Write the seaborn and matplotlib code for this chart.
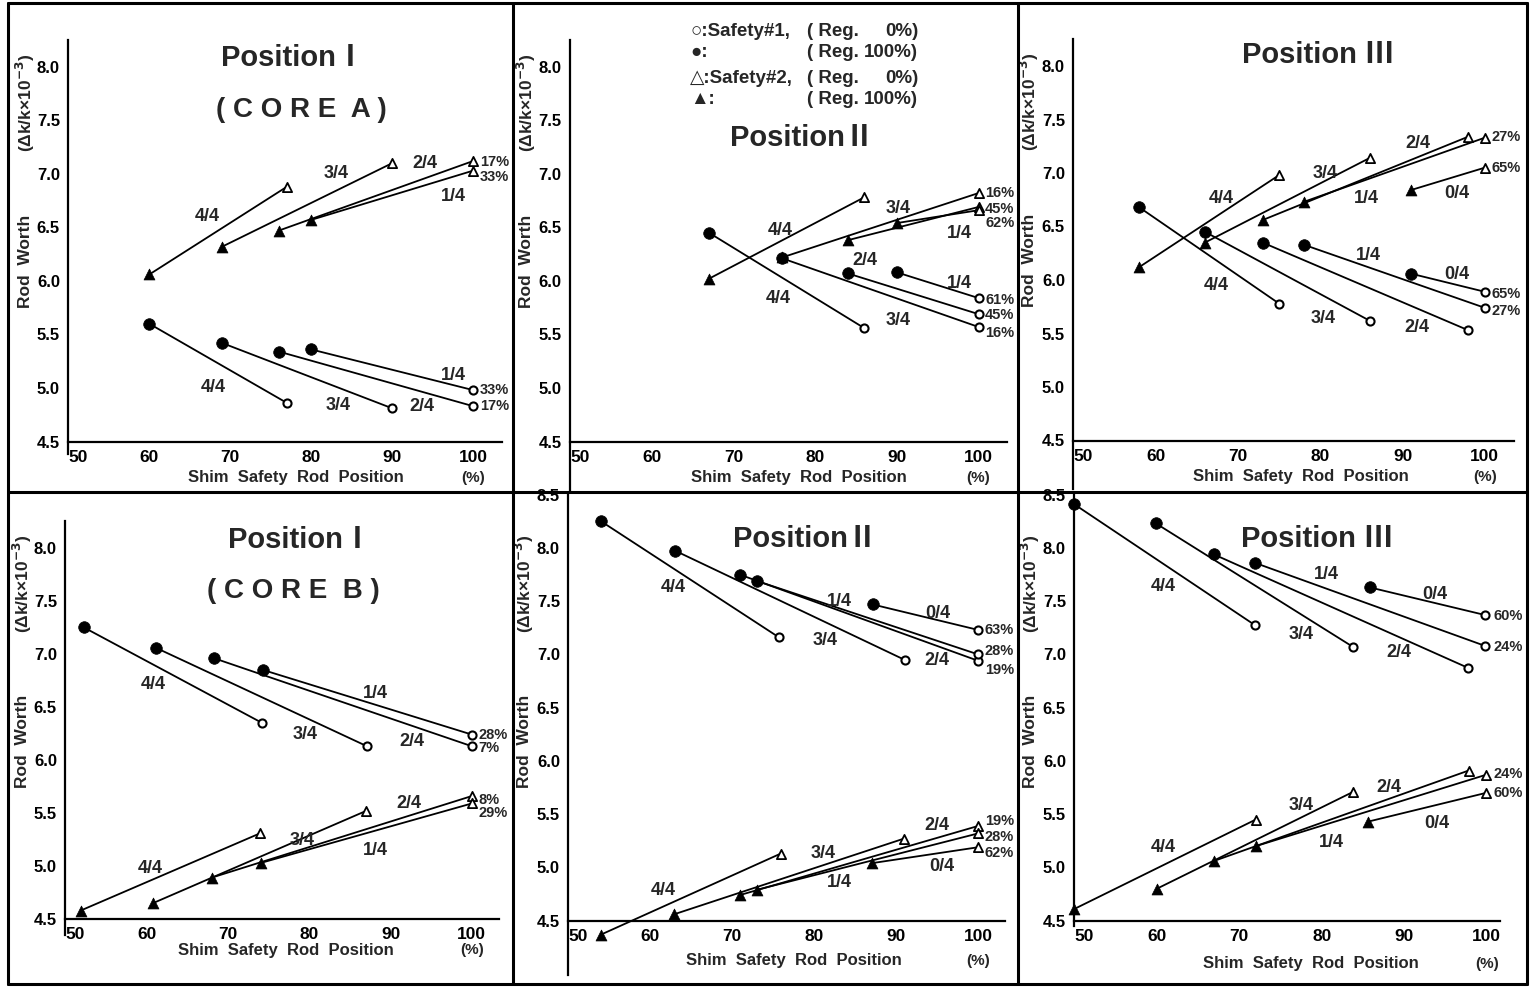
import matplotlib
matplotlib.use("Agg")
import matplotlib.pyplot as plt
import matplotlib.transforms as mtransforms
from matplotlib.lines import Line2D
from matplotlib import font_manager
import numpy as np
import pandas as pd
import seaborn as sns

# Each segment: (x_start, y_start, x_end, y_end)
# start = Reg. 100% (filled marker), end = Reg. 0% (open marker)
P1_CIRCLE = [(60, 5.60, 77, 4.86), (69, 5.42, 90, 4.81), (76, 5.34, 100, 4.83), (80, 5.36, 100, 4.98)]
P1_TRIANGLE = [(60, 6.06, 77, 6.88), (69, 6.32, 90, 7.10), (76, 6.47, 100, 7.12), (80, 6.57, 100, 7.03)]
P2_CIRCLE = [(67, 6.45, 86, 5.56), (76, 6.21, 100, 5.57), (84, 6.07, 100, 5.69), (90, 6.08, 100, 5.84)]
P2_TRIANGLE = [(67, 6.02, 86, 6.78), (76, 6.22, 100, 6.82), (84, 6.38, 100, 6.69), (90, 6.54, 100, 6.66)]
P3_CIRCLE = [(58, 6.68, 75, 5.78), (66, 6.45, 86, 5.62), (73, 6.35, 98, 5.53), (78, 6.33, 100, 5.74),
             (91, 6.06, 100, 5.89)]
P3_TRIANGLE = [(58, 6.12, 75, 6.98), (66, 6.35, 86, 7.14), (73, 6.56, 98, 7.34), (78, 6.73, 100, 7.33),
               (91, 6.84, 100, 7.05)]
P4_CIRCLE = [(52.3, 7.25, 74.2, 6.35), (61.1, 7.06, 87.1, 6.13), (68.3, 6.96, 100, 6.13), (74.3, 6.85, 100, 6.24)]
P4_TRIANGLE = [(51.9, 4.58, 74.0, 5.31), (60.8, 4.65, 87.0, 5.52), (68.0, 4.89, 100, 5.66), (74.1, 5.03, 100, 5.59)]
P5_CIRCLE = [(54, 8.25, 75.7, 7.16), (63, 7.975, 91, 6.95), (70.9, 7.75, 100, 6.94), (73, 7.69, 100, 7.00),
             (87.1, 7.47, 100, 7.23)]
P5_TRIANGLE = [(54, 4.37, 75.9, 5.13), (62.9, 4.56, 90.9, 5.27), (70.9, 4.74, 100, 5.39), (73, 4.79, 100, 5.32),
               (87, 5.04, 100, 5.19)]
P6_CIRCLE = [(50, 8.41, 71.9, 7.275), (59.9, 8.23, 83.8, 7.07), (66.9, 7.94, 97.7, 6.875), (71.9, 7.86, 99.8, 7.08),
             (85.8, 7.63, 99.8, 7.37)]
P6_TRIANGLE = [(50, 4.61, 72.0, 5.45), (60, 4.80, 83.8, 5.71), (66.9, 5.06, 97.8, 5.91), (72, 5.20, 99.9, 5.87),
               (85.6, 5.43, 99.9, 5.70)]

# rod pattern labels (text, x, y)
P1_LABELS = [("4/4", 67.1, 6.60), ("3/4", 83.1, 7.00), ("2/4", 94.0, 7.10), ("1/4", 97.5, 6.79),
             ("4/4", 67.9, 5.00), ("3/4", 83.3, 4.84), ("2/4", 93.6, 4.83), ("1/4", 97.5, 5.12)]
P2_LABELS = [("4/4", 75.7, 6.47), ("3/4", 90.2, 6.68), ("1/4", 97.6, 6.44), ("2/4", 86.1, 6.19),
             ("1/4", 97.6, 5.98), ("4/4", 75.5, 5.84), ("3/4", 90.2, 5.63)]
P3_LABELS = [("4/4", 68.0, 6.76), ("3/4", 80.6, 7.00), ("2/4", 91.9, 7.28), ("1/4", 85.6, 6.76), ("0/4", 96.6, 6.81),
             ("4/4", 67.4, 5.95), ("3/4", 80.4, 5.64), ("2/4", 91.7, 5.56), ("1/4", 85.8, 6.23), ("0/4", 96.6, 6.05)]
P4_LABELS = [("4/4", 60.8, 6.71), ("3/4", 79.5, 6.24), ("2/4", 92.6, 6.17), ("1/4", 88.1, 6.63),
             ("4/4", 60.4, 4.98), ("3/4", 79.1, 5.24), ("2/4", 92.2, 5.59), ("1/4", 88.1, 5.15)]
P5_LABELS = [("4/4", 62.8, 7.63), ("3/4", 81.3, 7.13), ("2/4", 94.9, 6.94), ("1/4", 83.1, 7.50), ("0/4", 95.1, 7.38),
             ("4/4", 61.6, 4.78), ("3/4", 81.1, 5.13), ("2/4", 94.9, 5.39), ("1/4", 83.1, 4.86), ("0/4", 95.5, 5.01)]
P6_LABELS = [("4/4", 60.8, 7.64), ("3/4", 77.5, 7.19), ("2/4", 89.3, 7.02), ("1/4", 80.6, 7.75), ("0/4", 93.7, 7.56),
             ("4/4", 60.8, 5.19), ("3/4", 77.5, 5.58), ("2/4", 88.1, 5.75), ("1/4", 81.2, 5.23), ("0/4", 93.9, 5.41)]

# percentage tags at the right-hand ends (text, y)
P1_PCT = [("17%", 7.11), ("33%", 6.97), ("33%", 4.98), ("17%", 4.83)]
P2_PCT = [("16%", 6.82), ("45%", 6.67), ("62%", 6.54), ("61%", 5.82), ("45%", 5.68), ("16%", 5.51)]
P3_PCT = [("27%", 7.34), ("65%", 7.05), ("65%", 5.87), ("27%", 5.71)]
P4_PCT = [("28%", 6.24), ("7%", 6.11), ("8%", 5.62), ("29%", 5.50)]
P5_PCT = [("63%", 7.23), ("28%", 7.03), ("19%", 6.85), ("19%", 5.44), ("28%", 5.29), ("62%", 5.14)]
P6_PCT = [("60%", 7.36), ("24%", 7.07), ("24%", 5.88), ("60%", 5.70)]

# panel titles (text, x, y)
P1_TITLES = [("PositionⅠ", 77.8, 8.08), ("( C O R E  A )", 78.8, 7.60)]
P2_TITLES = [("PositionⅡ", 78.4, 7.33)]
P3_TITLES = [("Position Ⅲ", 79.8, 8.10)]
P4_TITLES = [("PositionⅠ", 78.9, 8.08), ("( C O R E  B )", 78.0, 7.59)]
P5_TITLES = [("PositionⅡ", 78.9, 8.08)]
P6_TITLES = [("Position Ⅲ", 79.4, 8.08)]

LEGEND_SYMBOL = ["○:Safety#1,", "●:", "△:Safety#2,", "▲:"]
LEGEND_VALUE = ["0%)", "100%)", "0%)", "100%)"]

X_TICKS = [50, 60, 70, 80, 90, 100]

# pixel geometry of each panel: x=50 px, px/unit x, y ref value, y ref px, px/unit y, xmax, ymin, ymax,
# x-label centre, x-label drop (px)
LAYOUT = [
    (68.3, 8.10, 8.0, 66.7, 107.1, 103.5, 4.38, 8.25, 78.1, 36),
    (570.0, 8.17, 8.0, 66.7, 107.1, 103.5, 4.05, 8.25, 78.0, 36),
    (1073.3, 8.23, 8.0, 66.0, 107.0, 103.5, 4.05, 8.25, 77.6, 36),
    (65.3, 8.13, 8.0, 548.0, 106.0, 103.3, 4.35, 8.25, 77.1, 31),
    (568.3, 8.20, 8.5, 494.7, 106.5, 103.3, 3.99, 8.5, 77.5, 40),
    (1074.3, 8.25, 8.5, 494.7, 106.5, 101.6, 4.45, 8.5, 78.7, 43),
]

W, H = 1530, 992

sns.set_theme(style="white")
plt.rcParams["font.family"] = ["Liberation Sans", "DejaVu Sans"]
plt.rcParams["font.weight"] = "bold"
plt.rcParams["mathtext.default"] = "bf"


def pick_font(*names):
    available = {f.name for f in font_manager.fontManager.ttflist}
    for n in names:
        if n in available:
            return n
    return "Liberation Sans"


TITLE_FONT = pick_font("Liberation Sans Narrow", "Liberation Sans")


def segments_frame(segs):
    rows = []
    for i, (x0, y0, x1, y1) in enumerate(segs):
        rows.append({"seg": i, "x": x0, "y": y0, "end": "start"})
        rows.append({"seg": i, "x": x1, "y": y1, "end": "end"})
    return pd.DataFrame(rows)


def draw_series(ax, segs, marker, s_fill, s_open, lw_open):
    df = segments_frame(segs)
    sns.lineplot(data=df, x="x", y="y", units="seg", estimator=None, sort=False,
                 color="black", lw=1.3, ax=ax, legend=False, clip_on=False)
    sns.scatterplot(data=df[df["end"] == "start"], x="x", y="y", marker=marker, s=s_fill,
                    color="black", edgecolor="black", linewidth=0.5, ax=ax, legend=False,
                    zorder=3, clip_on=False)
    sns.scatterplot(data=df[df["end"] == "end"], x="x", y="y", marker=marker, s=s_open,
                    facecolor="white", edgecolor="black", linewidth=lw_open, ax=ax, legend=False,
                    zorder=3, clip_on=False)


PANELS = [
    (P1_CIRCLE, P1_TRIANGLE, P1_LABELS, P1_PCT, P1_TITLES),
    (P2_CIRCLE, P2_TRIANGLE, P2_LABELS, P2_PCT, P2_TITLES),
    (P3_CIRCLE, P3_TRIANGLE, P3_LABELS, P3_PCT, P3_TITLES),
    (P4_CIRCLE, P4_TRIANGLE, P4_LABELS, P4_PCT, P4_TITLES),
    (P5_CIRCLE, P5_TRIANGLE, P5_LABELS, P5_PCT, P5_TITLES),
    (P6_CIRCLE, P6_TRIANGLE, P6_LABELS, P6_PCT, P6_TITLES),
]

fig = plt.figure(figsize=(W / 100, H / 100), dpi=100)
fig.patch.set_facecolor("white")

for idx, ((circ, tri, labels, pcts, titles), lay) in enumerate(zip(PANELS, LAYOUT)):
    x50, kx, yref, ypx, ky, xmax, ymin, ymax, xl_x, xl_dy = lay
    left = x50
    right = x50 + kx * (xmax - 50)
    top = ypx - ky * (ymax - yref)
    bottom = ypx + ky * (yref - ymin)
    ax = fig.add_axes([left / W, 1 - bottom / H, (right - left) / W, (bottom - top) / H])
    ax.set_facecolor("white")

    draw_series(ax, circ, "o", 70, 34, 1.5)
    draw_series(ax, tri, "^", 62, 44, 1.3)

    ax.set_xlim(50, xmax)
    ax.set_ylim(ymin, ymax)
    ax.set_xlabel("")
    ax.set_ylabel("")
    for side in ("top", "right"):
        ax.spines[side].set_visible(False)
    for side in ("left", "bottom"):
        ax.spines[side].set_color("black")
        ax.spines[side].set_linewidth(1.6)
    ax.spines["bottom"].set_position(("data", 4.5))

    yticks = np.arange(4.5, ymax + 0.01, 0.5)
    ax.set_yticks(yticks)
    ax.set_yticklabels([f"{v:.1f}" for v in yticks])
    ax.set_xticks(X_TICKS)
    ax.set_xticklabels([str(v) for v in X_TICKS])
    ax.tick_params(axis="y", direction="out", length=3, width=1.2, pad=3, labelsize=12, colors="black")
    ax.tick_params(axis="x", direction="in", length=4, width=1.2, pad=6, labelsize=12.5, colors="black")
    ax.grid(False)
    # the "50" label sits just right of the vertical axis
    shift = mtransforms.ScaledTranslation(10 / 100, 0, fig.dpi_scale_trans)
    first = ax.get_xticklabels()[0]
    first.set_transform(first.get_transform() + shift)

    # axis labels
    drop = mtransforms.offset_copy(ax.transData, fig=fig, y=-xl_dy, units="dots")
    ax.text(xl_x, 4.5, "Shim  Safety  Rod  Position", transform=drop, ha="center", va="center",
            fontsize=12, fontweight="bold")
    ax.text(100, 4.5, "(%)", transform=drop, ha="center", va="center", fontsize=11, fontweight="bold")
    ax.text(44.7, 6.18, "Rod  Worth", rotation=90, ha="center", va="center", fontsize=12.5, fontweight="bold")
    ax.text(44.7, 7.66, "(Δk/k×10$^{-3}$)", rotation=90, ha="center", va="center", fontsize=12.5,
            fontweight="bold")

    for txt, x, y in titles:
        ax.text(x, y, txt, ha="center", va="center", fontsize=21 if "Position" in txt else 20,
                fontweight="bold", family=[TITLE_FONT, "Noto Sans CJK JP", "DejaVu Sans"])
    for txt, x, y in labels:
        ax.text(x, y, txt, ha="center", va="center", fontsize=13, fontweight="bold")
    for txt, y in pcts:
        ax.text(100.8, y, txt, ha="left", va="center", fontsize=10.5, fontweight="bold")

    if idx == 1:
        for k, (sym, val) in enumerate(zip(LEGEND_SYMBOL, LEGEND_VALUE)):
            y = [8.33, 8.13, 7.89, 7.69][k]
            ax.text(64.7, y, sym, ha="left", va="center", fontsize=13.5, fontweight="bold",
                    family=["Liberation Sans", "DejaVu Sans"])
            ax.text(79.0, y, "( Reg.", ha="left", va="center", fontsize=13.5, fontweight="bold")
            ax.text(92.6, y, val, ha="right", va="center", fontsize=13.5, fontweight="bold")

# panel frames
frame = dict(color="black", lw=2.2, transform=fig.transFigure)
for xs, ys in [
    ([8, 1527], [3, 3]), ([8, 1527], [984, 984]), ([8, 1527], [492, 492]),
    ([8, 8], [3, 984]), ([1527, 1527], [3, 984]), ([513, 513], [3, 984]), ([1018, 1018], [3, 984]),
]:
    fig.add_artist(Line2D([x / W for x in xs], [1 - y / H for y in ys], **frame))

fig.savefig("out.png", dpi=100, facecolor="white")
